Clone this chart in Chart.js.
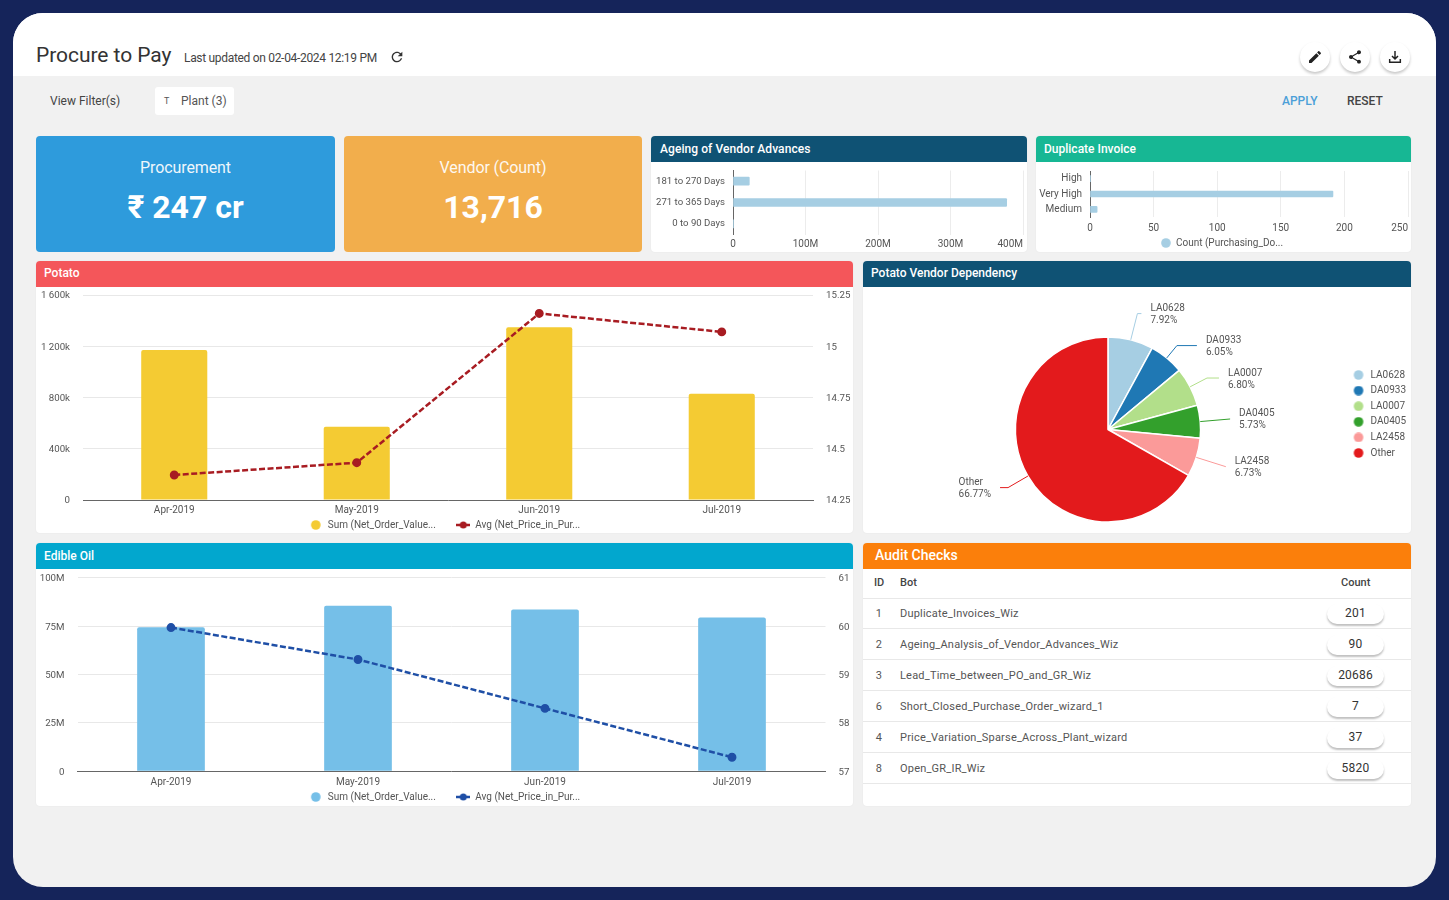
<!DOCTYPE html>
<html><head><meta charset="utf-8">
<script src="https://cdn.jsdelivr.net/npm/chart.js@4"></script>
<style>
*{box-sizing:border-box}
html,body{margin:0;width:1449px;height:900px;overflow:hidden;background:#15245a;font-family:Roboto,sans-serif;color:#444}
.abs{position:absolute}
#frame{position:absolute;left:13px;top:13px;width:1423px;height:874px;border-radius:30px;background:#f1f1f1;overflow:hidden}
#topbar{position:absolute;left:0;top:0;width:1423px;height:63px;background:#fff}
.card{position:absolute;background:#fff;border-radius:4px;box-shadow:0 0 2px rgba(0,0,0,.06)}
.head{position:absolute;left:0;top:0;right:0;height:26px;border-radius:4px 4px 0 0;color:#fff;font-weight:500;font-size:12px;line-height:26px;padding-left:8px;white-space:nowrap}
canvas{position:absolute;display:block}
.kpi{position:absolute;border-radius:4px;color:#fff;text-align:center}
.kpi .t{position:absolute;left:0;right:0;top:22px;font-size:16px;line-height:20px;opacity:.92;letter-spacing:-.1px}
.kpi .v{position:absolute;left:0;right:0;top:51px;font-size:32px;line-height:40px;font-weight:700}
.ico{position:absolute;top:42px;width:30px;height:30px;border-radius:50%;background:#fff;box-shadow:0 2px 3px rgba(0,0,0,.22);display:flex;align-items:center;justify-content:center}
.txt{position:absolute;white-space:nowrap}
.row{position:absolute;left:0;right:0;height:31px;border-bottom:1px solid #e8e8e8;font-size:11px;color:#555;letter-spacing:.2px}
.row .id{position:absolute;left:0;width:32px;text-align:center;top:9px}
.row .bot{position:absolute;left:37px;top:9px}
.pill{position:absolute;left:464px;top:6px;width:57px;height:20px;border-radius:10px;background:#fff;box-shadow:0 2px 2px rgba(0,0,0,.25);text-align:center;font-size:12px;line-height:18px;color:#333}
</style></head>
<body>
<div id="frame"><div id="topbar"></div></div>

<div class="txt" style="left:36px;top:42px;font-size:21px;line-height:26px;color:#333;letter-spacing:-.05px">Procure to Pay</div>
<div class="txt" style="left:184px;top:51px;font-size:12px;line-height:14px;color:#444;letter-spacing:-.31px">Last updated on 02-04-2024 12:19 PM</div>
<svg class="abs" style="left:389px;top:49px" width="16" height="16" viewBox="0 0 24 24"><path fill="#333" d="M17.65 6.35C16.2 4.9 14.21 4 12 4c-4.42 0-7.99 3.58-7.99 8s3.57 8 7.99 8c3.73 0 6.84-2.55 7.73-6h-2.08c-.82 2.33-3.04 4-5.65 4-3.31 0-6-2.69-6-6s2.69-6 6-6c1.66 0 3.14.69 4.22 1.78L13 11h7V4l-2.35 2.35z"/></svg>

<div class="ico" style="left:1300px"><svg width="16" height="16" viewBox="0 0 24 24"><path fill="#222" d="M3 17.25V21h3.75L17.81 9.94l-3.75-3.75L3 17.25zM20.71 7.04c.39-.39.39-1.02 0-1.41l-2.34-2.34c-.39-.39-1.02-.39-1.41 0l-1.83 1.83 3.75 3.75 1.83-1.83z"/></svg></div>
<div class="ico" style="left:1340px"><svg width="16" height="16" viewBox="0 0 24 24"><path fill="#222" d="M18 16.08c-.76 0-1.44.3-1.96.77L8.91 12.7c.05-.23.09-.46.09-.7s-.04-.47-.09-.7l7.05-4.11c.54.5 1.25.81 2.04.81 1.66 0 3-1.34 3-3s-1.34-3-3-3-3 1.34-3 3c0 .24.04.47.09.7L8.04 9.81C7.5 9.31 6.79 9 6 9c-1.66 0-3 1.34-3 3s1.34 3 3 3c.79 0 1.5-.31 2.04-.81l7.12 4.16c-.05.21-.08.43-.08.65 0 1.61 1.31 2.92 2.92 2.92s2.92-1.31 2.92-2.92-1.31-2.92-2.92-2.92z"/></svg></div>
<div class="ico" style="left:1380px"><svg width="16" height="16" viewBox="0 0 24 24"><path fill="none" stroke="#222" stroke-width="2.2" d="M12 3v12M7.5 10.5l4.5 4.5 4.5-4.5M4 15v5h16v-5"/></svg></div>

<div class="txt" style="left:50px;top:94px;font-size:12px;line-height:14px;color:#444">View Filter(s)</div>
<div class="abs" style="left:155px;top:87px;width:79px;height:28px;background:#fff;border-radius:3px"></div>
<div class="txt" style="left:164px;top:96px;font-size:9px;line-height:11px;color:#555">T</div>
<div class="txt" style="left:181px;top:94px;font-size:12px;line-height:14px;color:#555">Plant (3)</div>
<div class="txt" style="left:1282px;top:94px;font-size:12px;line-height:14px;font-weight:500;color:#4b9fd8">APPLY</div>
<div class="txt" style="left:1347px;top:94px;font-size:12px;line-height:14px;font-weight:500;color:#444">RESET</div>

<div class="kpi" style="left:36px;top:136px;width:299px;height:116px;background:#2e9bdc"><div class="t">Procurement</div><div class="v">₹ 247 cr</div></div>
<div class="kpi" style="left:344px;top:136px;width:298px;height:116px;background:#f2ae4c"><div class="t">Vendor (Count)</div><div class="v">13,716</div></div>

<div class="card" style="left:651px;top:136px;width:376px;height:116px"><div class="head" style="background:#0f5274;padding-left:9px;letter-spacing:.07px">Ageing of Vendor Advances</div><canvas id="ageing" style="left:0;top:26px"></canvas></div>
<div class="card" style="left:1036px;top:136px;width:375px;height:116px"><div class="head" style="background:#17b794">Duplicate Invoice</div><canvas id="dup" style="left:0;top:26px"></canvas></div>
<div class="card" style="left:36px;top:261px;width:817px;height:272px"><div class="head" style="background:#f4565a;line-height:25px">Potato</div><canvas id="potato" style="left:0;top:26px"></canvas></div>
<div class="card" style="left:863px;top:261px;width:548px;height:272px"><div class="head" style="background:#0f5274;line-height:25px">Potato Vendor Dependency</div><canvas id="pie" style="left:0;top:26px"></canvas></div>
<div class="card" style="left:36px;top:543px;width:817px;height:263px"><div class="head" style="background:#02a7ce">Edible Oil</div><canvas id="oil" style="left:0;top:26px"></canvas></div>
<div class="card" id="audit" style="left:863px;top:543px;width:548px;height:263px"><div class="head" style="background:#fb7f0b;font-size:14px;padding-left:12px;line-height:25px">Audit Checks</div>
<div class="txt" style="left:11px;top:33px;font-size:11px;line-height:13px;font-weight:500;color:#444">ID</div>
<div class="txt" style="left:37px;top:33px;font-size:11px;line-height:13px;font-weight:500;color:#444">Bot</div>
<div class="txt" style="left:478px;top:33px;font-size:11px;line-height:13px;font-weight:500;color:#444">Count</div>
<div class="abs" style="left:0;right:0;top:55px;border-top:1px solid #e8e8e8"></div>
</div>

<script>
const months = ['Apr-2019','May-2019','Jun-2019','Jul-2019'];
const potatoSum = [1171000,572000,1348000,830000];
const potatoAvg = [14.372,14.432,15.16,15.07];
const potatoLeftTicks = ['0','400k','800k','1 200k','1 600k'];
const potatoRightTicks = ['14.25','14.5','14.75','15','15.25'];
const oilSum = [74400000,85500000,83600000,79500000];
const oilAvg = [59.97,59.31,58.30,57.29];
const oilLeftTicks = ['0','25M','50M','75M','100M'];
const oilRightTicks = ['57','58','59','60','61'];
const sumLabel = 'Sum (Net_Order_Value...';
const avgLabel = 'Avg (Net_Price_in_Pur...';
const ageCats = ['181 to 270 Days','271 to 365 Days','0 to 90 Days'];
const ageVals = [22500000,377500000,500000];
const ageTicks = ['0','100M','200M','300M','400M'];
const dupCats = ['High','Very High','Medium'];
const dupVals = [0.3,191,5.6];
const dupLabel = 'Count (Purchasing_Do...';
const pieCats = ['LA0628','DA0933','LA0007','DA0405','LA2458','Other'];
const pieVals = [7.92,6.05,6.80,5.73,6.73,66.77];
const pieColors = ['#a6cee3','#1f78b4','#b2df8a','#33a02c','#fb9a99','#e31a1c'];
const calloutRadial = [27,16,19,30,31,23];
const calloutRun = [4,20,12,0,0,-8];
const auditIds = ['1','2','3','6','4','8'];
const auditBots = ['Duplicate_Invoices_Wiz','Ageing_Analysis_of_Vendor_Advances_Wiz','Lead_Time_between_PO_and_GR_Wiz','Short_Closed_Purchase_Order_wizard_1','Price_Variation_Sparse_Across_Plant_wizard','Open_GR_IR_Wiz'];
const auditCounts = ['201','90','20686','7','37','5820'];

Chart.defaults.font.family = 'Roboto, sans-serif';
Chart.defaults.font.size = 10;
Chart.defaults.color = '#555';
Chart.defaults.animation = false;
Chart.defaults.responsive = false;
Chart.defaults.plugins.tooltip.enabled = false;

function size(id,w,h){const c=document.getElementById(id);c.width=w;c.height=h;c.style.width=w+'px';c.style.height=h+'px';return c;}
const fixW = w => s => { s.width = w; s.paddingTop = 0; s.paddingBottom = 0; };
const fixH = h => s => { s.height = h; s.paddingLeft = 0; s.paddingRight = 0; };

function lineMarker(color){
  const c=document.createElement('canvas');c.width=14;c.height=8;
  const g=c.getContext('2d');g.strokeStyle=color;g.lineWidth=2.5;g.beginPath();g.moveTo(0,4);g.lineTo(14,4);g.stroke();
  g.fillStyle=color;g.beginPath();g.arc(7,4,3.5,0,7);g.fill();return c;
}
function dotMarker(color,w){
  const c=document.createElement('canvas');c.width=w;c.height=10;
  const g=c.getContext('2d');g.fillStyle=color;g.beginPath();g.arc(w/2,5,4.8,0,7);g.fill();return c;
}
function bindLegend(ch){
  return Chart.defaults.plugins.legend.labels.generateLabels(ch);
}

function combo(id,barVals,lineVals,barColor,lineColor,lMax,lStep,rMin,rMax,rStep,lTicks,rTicks,g){
  size(id,817,g.h);
  new Chart(document.getElementById(id),{
    data:{labels:months,datasets:[
      {type:'line',label:avgLabel,data:lineVals,yAxisID:'y1',order:1,borderColor:lineColor,backgroundColor:lineColor,borderWidth:2.5,borderDash:[6,2.5],pointRadius:3.2,pointBackgroundColor:lineColor,pointBorderColor:lineColor,tension:0},
      {type:'bar',label:sumLabel,data:barVals,yAxisID:'y',order:2,backgroundColor:barColor,categoryPercentage:1,barPercentage:.362,borderRadius:{topLeft:2,topRight:2}}
    ]},
    options:{
      layout:{autoPadding:false,padding:{top:g.top,left:0,right:0,bottom:g.bottom}},
      plugins:{legend:{position:'bottom',reverse:true,labels:{usePointStyle:true,boxHeight:7,pointStyleWidth:14,padding:3,font:{size:10},color:'#555',
        generateLabels(ch){
          const items=bindLegend(ch);
          items.forEach(it=>{ if(it.text===avgLabel){it.pointStyle=lineMarker(lineColor);} else {it.pointStyle=dotMarker(barColor,14);it.text=it.text+'\u00a0\u00a0\u00a0\u00a0\u00a0\u00a0\u00a0';} });
          return items;
        }}}},
      scales:{
        x:{grid:{display:false,drawTicks:false},border:{color:'#666',width:1},ticks:{padding:g.xPad,maxRotation:0,font:{size:10}},afterFit:fixH(g.xH)},
        y:{position:'left',min:0,max:lMax,grid:{color:'#e8e8e8',drawTicks:false},border:{display:false},ticks:{stepSize:lStep,padding:g.lPad,labelOffset:1,font:{size:9.7},callback:(v,i)=>lTicks[i]},afterFit:fixW(g.l)},
        y1:{position:'right',min:rMin,max:rMax,grid:{display:false,drawTicks:false},border:{display:false},ticks:{stepSize:rStep,padding:g.rPad,labelOffset:1,font:{size:9.7},callback:(v,i)=>rTicks[i]},afterFit:fixW(g.r)}
      }
    }
  });
}
combo('potato',potatoSum,potatoAvg,'#f4cb33','#a81c22',1600000,400000,14.25,15.25,.25,potatoLeftTicks,potatoRightTicks,{h:246,top:8,bottom:-7,l:47,r:40,xH:17,xPad:4,lPad:13,rPad:13});
combo('oil',oilSum,oilAvg,'#75bfe8','#1f4fa6',100000000,25000000,57,61,1,oilLeftTicks,oilRightTicks,{h:237,top:8.7,bottom:-6,l:41.5,r:27.5,xH:17.7,xPad:5,lPad:13,rPad:13});

/* keeps the zero label centred on its gridline while the last one stays inside the card */
const centreFirstTick={id:'centreFirstTick',beforeDraw(ch){
  const s=ch.scales.x,it=s.getLabelItems();
  if(it.length){it[0].options.textAlign='center';it[0].options.translation[0]=s.getPixelForTick(0);}
}};

function hbar(id,cats,vals,w,h,xMax,step,tickFn,g,legendLabel){
  size(id,w,h);
  new Chart(document.getElementById(id),{
    type:'bar',
    data:{labels:cats,datasets:[{label:legendLabel||'Value',data:vals,backgroundColor:'#a6cee3',barThickness:g.bar,borderRadius:1}]},
    plugins:[centreFirstTick],
    options:{
      indexAxis:'y',
      layout:{autoPadding:false,padding:{top:g.top,right:g.right,left:0,bottom:g.bottom||0}},
      plugins:{legend:{display:!!legendLabel,position:'bottom',labels:{usePointStyle:true,boxHeight:7,pointStyleWidth:10,padding:3,font:{size:10},color:'#555',
        generateLabels(ch){const items=bindLegend(ch);items.forEach(it=>{it.pointStyle=dotMarker('#a6cee3',10);});return items;}}}},
      scales:{
        x:{type:'linear',min:0,max:xMax,grid:{color:'#ececec',drawTicks:false},border:{display:false},ticks:{stepSize:step,padding:g.xPad,maxRotation:0,align:'inner',autoSkip:false,font:{size:10},callback:tickFn},afterFit:fixH(g.xH)},
        y:{type:'category',grid:{display:false,drawTicks:false},border:{color:'#666',width:1},ticks:{padding:8,autoSkip:false,font:{size:g.yFont||10},callback(v,i){return cats[i];}},afterFit:fixW(g.l)}
      }
    }
  });
}
hbar('ageing',ageCats,ageVals,376,90,400000000,100000000,(v,i)=>ageTicks[i],{bar:8,top:8.5,right:4,xPad:4,xH:17.5,l:82,yFont:9.6});
hbar('dup',dupCats,dupVals,375,90,250,50,v=>String(v),{bar:6,top:9,right:3,bottom:-6,xPad:5,xH:18,l:54},dupLabel);

const callouts={id:'callouts',afterDatasetsDraw(ch){
  const ctx=ch.ctx,arcs=ch.getDatasetMeta(0).data;
  ctx.save();ctx.font='10px Roboto, sans-serif';ctx.textBaseline='middle';
  arcs.forEach((a,i)=>{
    const mid=(a.startAngle+a.endAngle)/2,cx=a.x,cy=a.y,r=a.outerRadius;
    const ax=cx+Math.cos(mid)*r,ay=cy+Math.sin(mid)*r;
    const ex=cx+Math.cos(mid)*(r+calloutRadial[i]),ey=cy+Math.sin(mid)*(r+calloutRadial[i]);
    const hx=ex+calloutRun[i];
    ctx.strokeStyle=pieColors[i];ctx.lineWidth=1;ctx.beginPath();ctx.moveTo(ax,ay);ctx.lineTo(ex,ey);ctx.lineTo(hx,ey);ctx.stroke();
    const pct=pieVals[i].toFixed(2)+'%';
    const wid=Math.max(ctx.measureText(pieCats[i]).width,ctx.measureText(pct).width);
    const tx=calloutRun[i]<0?hx-9-wid:hx+9;
    ctx.fillStyle='#555';ctx.textAlign='left';
    ctx.fillText(pieCats[i],tx,ey-5);ctx.fillText(pct,tx,ey+7);
  });
  ctx.restore();
}};
const nudgeLegend={id:'nudgeLegend',afterLayout(ch){const l=ch.legend;l.top-=15.5;l.bottom-=15.5;l.left+=5;l.right+=5;}};
size('pie',548,246);
new Chart(document.getElementById('pie'),{
  type:'pie',
  data:{labels:pieCats,datasets:[{data:pieVals,backgroundColor:pieColors,borderColor:'#fff',borderWidth:1.5,radius:92.6}]},
  plugins:[callouts,nudgeLegend],
  options:{
    layout:{autoPadding:false,padding:{top:50,bottom:11,left:12,right:0}},
    plugins:{legend:{position:'right',labels:{usePointStyle:true,boxHeight:7,pointStyleWidth:14,padding:5.6,font:{size:10},color:'#555',
      generateLabels(ch){const items=Chart.overrides.pie.plugins.legend.labels.generateLabels(ch);items.forEach((it,i)=>{it.pointStyle=dotMarker(pieColors[i],14);});return items;}}}}
  }
});

const audit=document.getElementById('audit');
auditIds.forEach((id,i)=>{
  const r=document.createElement('div');r.className='row';r.style.top=(55+i*31)+'px';
  [['id',auditIds[i]],['bot',auditBots[i]],['pill',auditCounts[i]]].forEach(([c,t])=>{const d=document.createElement('div');d.className=c;d.textContent=t;r.appendChild(d);});
  audit.appendChild(r);
});
</script>
</body></html>
